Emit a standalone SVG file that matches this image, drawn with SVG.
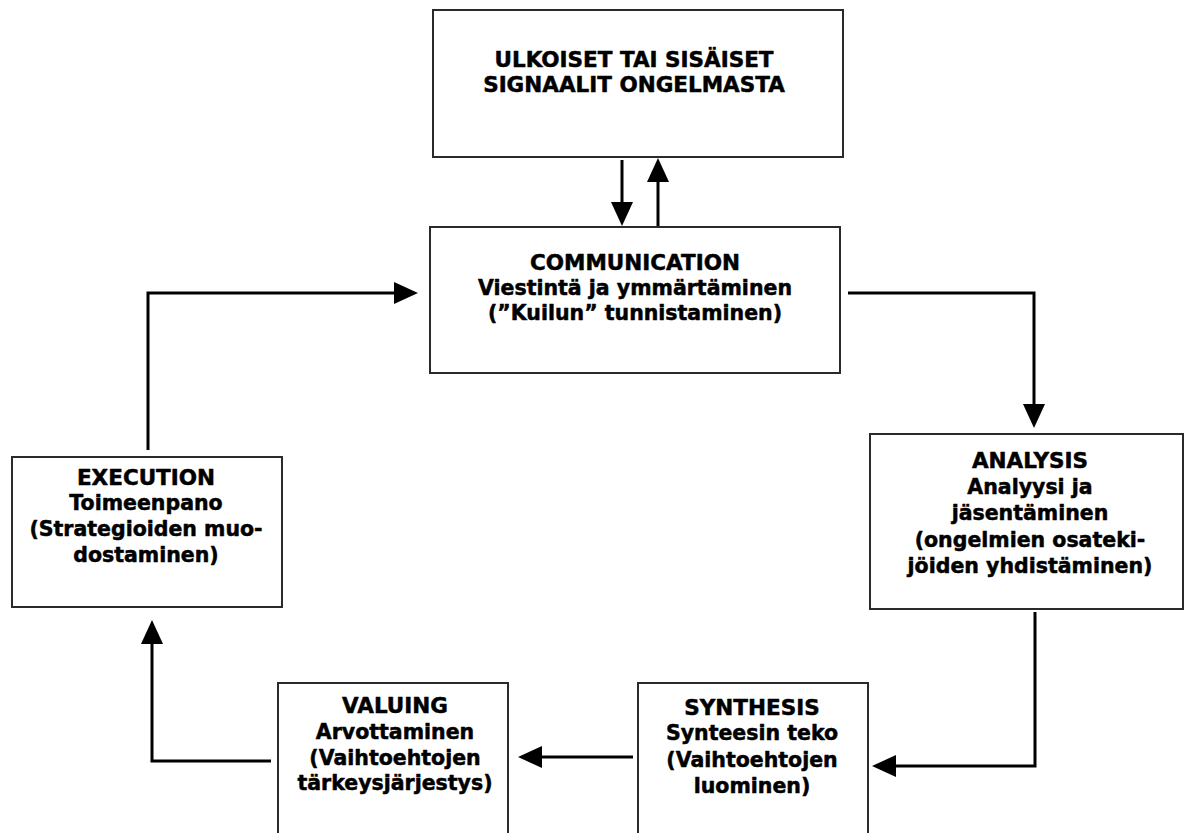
<svg xmlns="http://www.w3.org/2000/svg" width="1188" height="833" viewBox="0 0 1188 833">
  <style>
    .box { fill: #ffffff; stroke: #2a2a2a; stroke-width: 2; }
    .lbl { font-family: "DejaVu Sans", "Liberation Sans", sans-serif; font-weight: bold; font-size: 20.5px; fill: #000; stroke: #000; stroke-width: 0.5; stroke-linejoin: round; text-anchor: middle; }
    .cap { font-size: 21.5px; }
    .wire { fill: none; stroke: #000; stroke-width: 3; }
    .head { fill: #000; stroke: none; }
  </style>
  <rect width="1188" height="833" fill="#ffffff"/>

  <!-- process boxes -->
  <g id="signals">
    <rect class="box" x="433" y="10" width="410" height="147"/>
    <text class="lbl cap" x="634" y="67">ULKOISET TAI SISÄISET</text>
    <text class="lbl cap" x="634" y="92">SIGNAALIT ONGELMASTA</text>
  </g>

  <g id="communication">
    <rect class="box" x="430" y="227" width="410" height="146"/>
    <text class="lbl cap" x="635" y="270">COMMUNICATION</text>
    <text class="lbl" x="635" y="295">Viestintä ja ymmärtäminen</text>
    <text class="lbl" x="635" y="320">(”Kuilun” tunnistaminen)</text>
  </g>

  <g id="analysis">
    <rect class="box" x="870" y="434" width="313" height="175"/>
    <text class="lbl cap" x="1030" y="468">ANALYSIS</text>
    <text class="lbl" x="1030" y="494">Analyysi ja</text>
    <text class="lbl" x="1030" y="520">jäsentäminen</text>
    <text class="lbl" x="1030" y="547">(ongelmien osateki-</text>
    <text class="lbl" x="1030" y="573">jöiden yhdistäminen)</text>
  </g>

  <g id="synthesis">
    <rect class="box" x="638" y="683" width="230" height="160"/>
    <text class="lbl cap" x="752" y="715">SYNTHESIS</text>
    <text class="lbl" x="752" y="740">Synteesin teko</text>
    <text class="lbl" x="752" y="767">(Vaihtoehtojen</text>
    <text class="lbl" x="752" y="793">luominen)</text>
  </g>

  <g id="valuing">
    <rect class="box" x="278" y="683" width="230" height="160"/>
    <text class="lbl cap" x="395" y="713">VALUING</text>
    <text class="lbl" x="395" y="739">Arvottaminen</text>
    <text class="lbl" x="395" y="765">(Vaihtoehtojen</text>
    <text class="lbl" x="395" y="790">tärkeysjärjestys)</text>
  </g>

  <g id="execution">
    <rect class="box" x="12" y="457" width="270" height="150"/>
    <text class="lbl cap" x="146" y="485">EXECUTION</text>
    <text class="lbl" x="146" y="510">Toimeenpano</text>
    <text class="lbl" x="146" y="536">(Strategioiden muo-</text>
    <text class="lbl" x="146" y="562">dostaminen)</text>
  </g>

  <!-- connectors -->
  <g id="connectors">
    <!-- signals -> communication -->
    <path class="wire" d="M622 160 V204"/>
    <path class="head" d="M611 202 L633 202 L622 226 Z"/>
    <!-- communication -> signals -->
    <path class="wire" d="M658 226 V180"/>
    <path class="head" d="M647 182 L669 182 L658 158 Z"/>
    <!-- communication -> analysis -->
    <path class="wire" d="M848 293 H1034 V406"/>
    <path class="head" d="M1023 404 L1045 404 L1034 428 Z"/>
    <!-- analysis -> synthesis -->
    <path class="wire" d="M1035 612 V766 H894"/>
    <path class="head" d="M896 755 L896 777 L872 766 Z"/>
    <!-- synthesis -> valuing -->
    <path class="wire" d="M633 757 H540"/>
    <path class="head" d="M542 746 L542 768 L518 757 Z"/>
    <!-- valuing -> execution -->
    <path class="wire" d="M271 761 H152 V642"/>
    <path class="head" d="M141 644 L163 644 L152 620 Z"/>
    <!-- execution -> communication -->
    <path class="wire" d="M148 450 V293 H396"/>
    <path class="head" d="M394 282 L394 304 L418 293 Z"/>
  </g>
</svg>
